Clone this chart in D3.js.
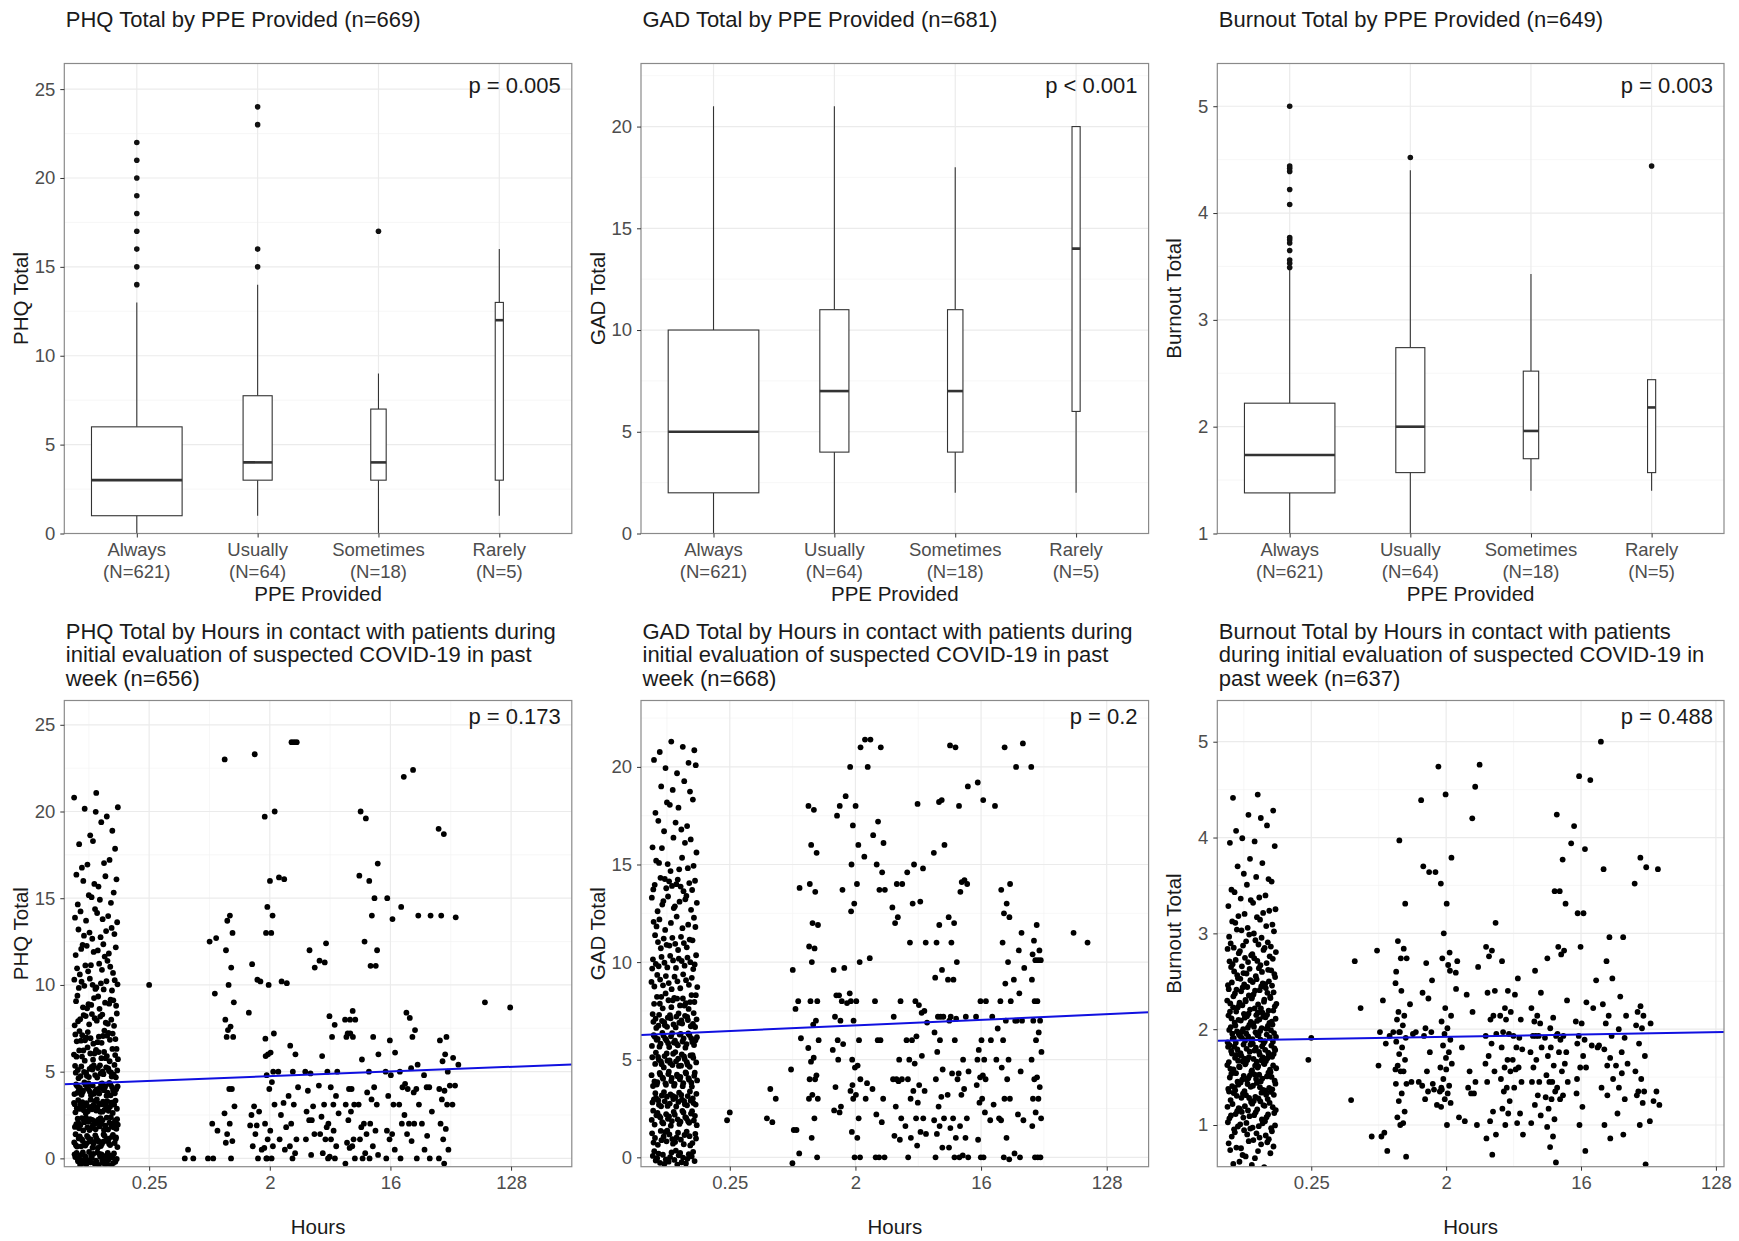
<!DOCTYPE html>
<html lang="en">
<head>
<meta charset="utf-8">
<script src="https://cdn.jsdelivr.net/npm/d3@7"></script>
<title>PPE and hours in contact</title>
<style>
  body { margin: 0; background: #fff; }
  svg text { font-family: "Liberation Sans", Arial, sans-serif; }
</style>
</head>
<body>
<svg id="chart" width="1739" height="1241"></svg>
<script>
// ---- data ----
const ppeLevels = ["Always", "Usually", "Sometimes", "Rarely"];
const ppeN = [621, 64, 18, 5];

// [lower whisker, Q1, median, Q3, upper whisker]
const phqBox = [[0, 1, 3, 6, 13], [1, 3, 4, 7.75, 14], [0, 3, 4, 7, 9], [1, 3, 12, 13, 16]];
const phqOut = [[14, 15, 16, 17, 18, 19, 20, 21, 22], [15, 16, 23, 24], [17], []];
const gadBox = [[0, 2, 5, 10, 21], [0, 4, 7, 11, 21], [2, 4, 7, 11, 18], [2, 6, 14, 20, 20]];
const gadOut = [[], [], [], []];
const burnBox = [[1, 1.38, 1.735, 2.22, 3.47], [1, 1.57, 2, 2.74, 4.4], [1.4, 1.7, 1.96, 2.52, 3.43], [1.4, 1.57, 2.18, 2.44, 2.44]];
const burnOut = [[3.49, 3.53, 3.56, 3.65, 3.72, 3.75, 3.77, 4.08, 4.22, 4.39, 4.42, 4.44, 5.0], [4.52], [], [4.44]];

const pBox = ["p = 0.005", "p < 0.001", "p = 0.003"];
const pHours = ["p = 0.173", "p = 0.2", "p = 0.488"];
const hourTicks = [0.25, 2, 16, 128];

// respondents reporting no contact hours, shown at 0.1 h: [score, count]
const zeroHours = 0.1;
const phqZero = [[0,45],[1,40],[2,42],[3,40],[4,38],[5,30],[6,22],[7,20],[8,16],[9,14],[10,14],[11,10],[12,10],[13,8],[14,8],[15,6],[16,6],[17,4],[18,3],[19,3],[20,4],[21,2]];
const gadZero = [[0,25],[1,25],[2,30],[3,32],[4,32],[5,30],[6,32],[7,28],[8,20],[9,16],[10,18],[11,14],[12,10],[13,12],[14,14],[15,8],[16,6],[17,5],[18,5],[19,4],[20,5],[21,4]];
const burnZero = [[0.6,4],[0.7,6],[0.8,8],[0.9,9],[1.0,12],[1.1,13],[1.2,15],[1.3,16],[1.4,17],[1.5,18],[1.6,19],[1.7,20],[1.8,20],[1.9,20],[2.0,19],[2.1,17],[2.2,16],[2.3,15],[2.4,14],[2.5,13],[2.6,12],[2.7,11],[2.8,9],[2.9,8],[3.0,7],[3.1,6],[3.2,5],[3.3,4],[3.4,4],[3.5,3],[3.6,3],[3.7,2],[3.8,1],[3.9,2],[4.0,2],[4.1,2],[4.2,2],[4.3,1],[4.4,2]];

// the rest, grouped by hours
const phqHours = [
  {h: 0.25, v: [10]},
  {h: 0.5, v: [0.5, 0, 0]},
  {h: 0.75, v: [12.7, 12.5, 9.5, 2, 1.6, 0, 0]},
  {h: 1, v: [23, 14, 13.7, 13, 12, 11, 10, 9, 8, 7.6, 7.4, 7, 7, 4, 4, 3, 2.6, 2, 1.4, 1, 0.9, 0]},
  {h: 1.5, v: [23.3, 11.2, 10.3, 8.4, 3, 2.5, 1.9, 1.9, 1.4, 0.7, 0]},
  {h: 1.75, v: [10.2, 5.9, 2.7, 0.6, 0.5, 0]},
  {h: 2, v: [20, 19.7, 16, 14.5, 14, 13, 13, 10, 7.2, 6.9, 6.1, 6, 5, 4.8, 4.4, 4, 3.1, 2, 1.6, 1.1, 0.7, 0, 0]},
  {h: 2.5, v: [16.2, 16.1, 10.2, 10.1, 5, 3.2, 2.5, 1.8, 1.1, 0.5]},
  {h: 3, v: [24, 24, 24, 6.5, 6, 5, 4.1, 3.6, 3.1, 2, 1.1, 0.7, 0.3, 0]},
  {h: 4, v: [12, 11, 5, 4.9, 3.9, 3, 2.7, 2.2, 2.2, 1.4, 1.1, 0.2]},
  {h: 5, v: [12.4, 11.4, 11.3, 5.9, 5, 4.2, 3.1, 2.4, 1.8, 1.4, 1.1, 0.3, 0]},
  {h: 6, v: [8.2, 7.7, 7, 5, 4.1, 3.6, 3.1, 2.6, 2, 1.6, 1.1, 0.7, 0.1, 0]},
  {h: 8, v: [8.5, 8, 8, 8, 7.2, 7.2, 7, 7, 4, 4, 3.1, 3.1, 2.7, 2.2, 1.1, 0.9, 0.7, 0.6, 0, -0.3]},
  {h: 10, v: [20, 19.6, 16.3, 12.5, 5.7, 3.8, 3.1, 2, 1.8, 1.4, 1.1, 0.3, 0]},
  {h: 12, v: [17, 16, 15, 14, 12, 11.1, 11.1, 7, 6, 5, 4.1, 3.4, 3.1, 2, 1.6, 0.7, 0.2, 0]},
  {h: 16, v: [15, 13.8, 6.8, 6.1, 5, 4.8, 3.6, 3.1, 1.6, 1.4, 1.1, 0.5, 0]},
  {h: 20, v: [22, 14.5, 8.4, 5, 4.3, 4.1, 4, 3.1, 2.5, 2, 1.4, 0]},
  {h: 24, v: [22.4, 14, 8.1, 7.4, 7, 5.4, 5.2, 4, 3.8, 3.1, 2, 2, 1, 0]},
  {h: 30, v: [14, 4.8, 4.1, 4.1, 2.7, 2, 1.3, 0.5, 0]},
  {h: 40, v: [19, 18.7, 14, 7, 6.8, 6, 5.6, 5, 4, 3.9, 3.4, 3.1, 2, 1.7, 1.1, 0.5, 0, -0.3]},
  {h: 48, v: [13.9, 5.8, 5.4, 4.2, 4.2, 3.1]},
  {h: 84, v: [9]},
  {h: 116, v: [8.7]}
];
const gadHours = [
  {h: 0.25, v: [2.3, 1.9]},
  {h: 0.5, v: [3.5, 3, 2, 1.8]},
  {h: 0.75, v: [13.8, 9.6, 8, 7.6, 6.1, 4.5, 1.4, 1.4, 0.2, -0.3]},
  {h: 1, v: [18, 17.8, 16, 15.6, 14, 13.6, 12, 11.9, 10.8, 10.7, 10, 8, 8, 7, 6.8, 6, 5.6, 5.1, 4.9, 4.2, 4, 4, 3.2, 3, 3, 2, 1, 0]},
  {h: 1.5, v: [18, 17.5, 13.7, 9.6, 8.3, 8.3, 8, 7.2, 7, 6, 5.8, 5.5, 5, 3.6, 2.6, 2.4, 2.3]},
  {h: 1.75, v: [18.5, 12.6, 9.7, 8.4, 7.9, 3.7]},
  {h: 2, v: [21, 20, 18, 17, 16, 15, 14, 13, 10, 8, 8, 7, 6, 5, 4.7, 4.6, 4, 3.4, 3.2, 3, 2, 1.3, 1, 0, 0]},
  {h: 2.5, v: [21.4, 21.4, 20, 16.5, 15.4, 10.2, 3.8, 3.5, 3]},
  {h: 3, v: [21, 17.2, 16.1, 15, 14.6, 13.7, 13.7, 8, 6, 6, 3, 2.2, 1.8, 0, 0, 0]},
  {h: 4, v: [14, 14, 12.8, 12.3, 12, 8, 7.2, 5, 4, 4, 4, 3.9, 2.6, 2, 1.1, 0.9]},
  {h: 5, v: [15, 14.6, 13, 11, 8, 6, 6, 5, 4.8, 4, 3.4, 3, 2, 1.6, 1, 0]},
  {h: 6, v: [18.1, 14.8, 13.1, 11, 7.8, 7.5, 7.4, 6.9, 6.2, 5.2, 3.7, 3.4, 2.8, 2, 1.3, 1.2, 0.6]},
  {h: 8, v: [18.3, 18.2, 16, 15.6, 11.9, 11, 9.6, 9.2, 7.2, 7.2, 7.2, 6.4, 6, 5.4, 4.5, 4, 3.1, 2.6, 2, 1.9, 1.6, 1.2, 0.5, 0]},
  {h: 10, v: [21.1, 21, 12.3, 12, 11, 10, 9.1, 9.1, 7.2, 7.1, 7, 6, 4.3, 4, 3.2, 2, 1.5, 1, 0.5, 0]},
  {h: 12, v: [19, 18, 14.2, 14.1, 14, 13.6, 7.2, 5, 4.4, 4.3, 3.5, 3.2, 2, 1.6, 1, 0.1, 0, 0]},
  {h: 16, v: [19.2, 18.3, 8, 8, 7.2, 6, 5.5, 5, 5, 4.2, 4.1, 4, 3.7, 3, 2.8, 2.3, 0.9, 0, 0]},
  {h: 20, v: [18, 7.2, 6.6, 6, 5, 2.7, 2, 1.9]},
  {h: 24, v: [21, 14, 13.7, 13, 12.5, 12.3, 11, 10, 8.9, 8, 8, 7, 6, 5, 4.6, 4, 3, 3, 1.9, 1, 0, -0.1]},
  {h: 30, v: [21.2, 20, 11.5, 10.6, 9.7, 9.1, 8.4, 7, 7, 7, 4.4, 2.2, 1.9, 0.2, 0]},
  {h: 40, v: [20, 11.9, 11.1, 10.6, 10.4, 10.1, 10.1, 10.1, 9.1, 8, 8, 7, 7, 6.4, 6, 5.4, 5, 4.1, 4, 3.6, 3, 3, 2.3, 2, 1.6, 0, 0, 0]},
  {h: 72, v: [11.5]},
  {h: 96, v: [11]}
];
const burnHours = [
  {h: 0.25, v: [1.91, 1.68]},
  {h: 0.5, v: [2.71, 2.22, 1.26]},
  {h: 0.6, v: [0.88]},
  {h: 0.75, v: [2.82, 2.3, 1.97, 1.85, 1.62, 0.92, 0.88, 0.73]},
  {h: 0.9, v: [2.6, 1.97, 1.97, 1.93, 1.58]},
  {h: 1, v: [3.97, 3.31, 2.92, 2.84, 2.74, 2.74, 2.48, 2.4, 2.18, 2.14, 2.1, 2.04, 1.97, 1.91, 1.87, 1.81, 1.74, 1.68, 1.62, 1.56, 1.56, 1.43, 1.43, 1.33, 1.25, 1.14, 1.08, 1.02, 1.0, 0.67]},
  {h: 1.25, v: [4.39, 2.26, 1.97, 1.95, 1.45, 1.45]},
  {h: 1.5, v: [3.7, 3.64, 2.69, 2.51, 2.38, 2.32, 2.01, 1.97, 1.93, 1.76, 1.56, 1.43, 1.41, 1.35, 1.27]},
  {h: 1.75, v: [4.74, 3.64, 1.39, 1.37, 1.35, 1.21]},
  {h: 2, v: [4.45, 3.79, 3.52, 3.31, 3, 2.8, 2.74, 2.67, 2.22, 2.14, 2.08, 2.01, 1.95, 1.89, 1.83, 1.76, 1.7, 1.64, 1.6, 1.58, 1.48, 1.41, 1.37, 1.33, 1.27, 1.23, 1.19, 1.0]},
  {h: 2.25, v: [2.71, 2.61, 2.59]},
  {h: 2.5, v: [2.42, 1.81, 1.08, 1.04]},
  {h: 3, v: [4.53, 4.2, 2.65, 2.36, 2.18, 1.56, 1.45, 1.39, 1.33, 1.33, 1.0]},
  {h: 3.5, v: [4.76, 1.64]},
  {h: 4, v: [3.11, 2.86, 2.82, 2.76, 2.4, 2.38, 2.14, 2.1, 1.95, 1.93, 1.85, 1.72, 1.56, 1.45, 1.14, 1.04, 0.9, 0.86, 0.69]},
  {h: 5, v: [2.71, 2.4, 2.22, 2.18, 2.14, 2.1, 1.97, 1.95, 1.81, 1.68, 1.6, 1.56, 1.48, 1.39, 1.35, 1.25, 1.17, 1.12, 1.0]},
  {h: 6, v: [2.53, 2.36, 2.1, 1.93, 1.91, 1.81, 1.79, 1.68, 1.6, 1.58, 1.45, 1.39, 1.12, 1.02, 0.9]},
  {h: 8, v: [2.61, 2.38, 2.22, 2.14, 2.08, 2.06, 1.93, 1.93, 1.93, 1.81, 1.76, 1.68, 1.6, 1.45, 1.45, 1.31, 1.21, 1.1, 1.02]},
  {h: 10, v: [3.44, 2.74, 2.12, 2.01, 1.93, 1.91, 1.81, 1.72, 1.62, 1.52, 1.45, 1.45, 1.35, 1.29, 1.27, 1.17, 1.06, 0.98, 0.88, 0.77, 0.61]},
  {h: 12, v: [4.24, 3.77, 3.44, 3.31, 2.86, 2.82, 2.78, 2.3, 1.95, 1.93, 1.89, 1.76, 1.76, 1.64, 1.56, 1.45, 1.39, 1.31, 1.27]},
  {h: 14, v: [4.12, 3.94, 1.48]},
  {h: 16, v: [4.64, 3.88, 3.21, 3.21, 2.86, 2.28, 2.08, 2.06, 1.93, 1.89, 1.85, 1.72, 1.6, 1.6, 1.33, 1.19, 1.0, 0.73]},
  {h: 20, v: [5.0, 4.6, 2.51, 2.22, 1.83, 1.83, 1.81]},
  {h: 24, v: [3.67, 2.96, 2.71, 2.53, 2.26, 2.14, 2.06, 1.93, 1.79, 1.7, 1.62, 1.48, 1.39, 1.31, 1.0, 0.86]},
  {h: 30, v: [2.96, 2.34, 2.14, 2.0, 1.91, 1.76, 1.64, 1.62, 1.54, 1.39, 1.27, 1.12, 0.9]},
  {h: 40, v: [3.79, 3.69, 3.52, 2.24, 2.18, 2.14, 2.04, 2.01, 1.85, 1.72, 1.56, 1.48, 1.35, 1.35, 1.31, 1.23, 1.0, 0.59]},
  {h: 50, v: [3.67, 2.06, 1.35, 1.25, 1.21, 1.04]}
];

// fitted lines, score = a + b * log2(hours)
const phqFit = {a: 4.65, b: 0.0903};
const gadFit = {a: 6.66, b: 0.0957};
const burnFit = {a: 1.913, b: 0.008};

// ---- layout ----
const svg = d3.select("#chart");
const cols = [{left: 64.3, right: 571.8}, {left: 641, right: 1148.6}, {left: 1217.3, right: 1724}];
const topRow = {top: 63.5, bottom: 533.5};
const botRow = {top: 700.5, bottom: 1166.7};

const tickFont = "18.5px", labFont = "20.5px", titleFont = "22px";
const gridMajor = "#ebebeb", gridMinor = "#f3f3f3";
const fmt = d3.format("~g");

function minors(ticks, dom) {
  const step = ticks[1] - ticks[0];
  const out = [];
  for (let v = ticks[0] - step / 2; v <= ticks[ticks.length - 1] + step / 2 + 1e-9; v += step) {
    if (v > dom[0] && v < dom[1]) out.push(v);
  }
  return out;
}

// Halton sequence: a fixed, evenly spread jitter pattern (no random numbers)
function halton(i, b) {
  let f = 1, r = 0;
  while (i > 0) { f /= b; r += f * (i % b); i = Math.floor(i / b); }
  return r;
}

function styleAxis(g) {
  g.select(".domain").remove();
  g.selectAll(".tick line").attr("stroke", "#333").attr("stroke-width", 1);
  g.selectAll(".tick text").attr("fill", "#4d4d4d").style("font-size", tickFont);
}

function panelFrame(id, c, row) {
  const g = svg.append("g");
  svg.append("clipPath").attr("id", id)
    .append("rect").attr("x", c.left).attr("y", row.top)
    .attr("width", c.right - c.left).attr("height", row.bottom - row.top);
  return g;
}

function addTitle(c, lines, baselines) {
  const t = svg.append("text").attr("x", c.left + 1.5).attr("fill", "#1a1a1a").style("font-size", titleFont);
  lines.forEach((s, i) => t.append("tspan").attr("x", c.left + 1.5).attr("y", baselines[i]).text(s));
}

function addYLabel(c, row, s) {
  const cy = (row.top + row.bottom) / 2;
  svg.append("text")
    .attr("transform", `translate(${c.left - 36},${cy}) rotate(-90)`)
    .attr("text-anchor", "middle").attr("fill", "#1a1a1a").style("font-size", labFont)
    .text(s);
}

function addXLabel(c, y, s) {
  svg.append("text").attr("x", (c.left + c.right) / 2).attr("y", y)
    .attr("text-anchor", "middle").attr("fill", "#1a1a1a").style("font-size", labFont)
    .text(s);
}

function addP(c, y, s) {
  svg.append("text").attr("x", c.right - 11).attr("y", y)
    .attr("text-anchor", "end").attr("fill", "#1a1a1a").style("font-size", titleFont)
    .text(s);
}

function border(c, row) {
  svg.append("rect").attr("x", c.left).attr("y", row.top)
    .attr("width", c.right - c.left).attr("height", row.bottom - row.top)
    .attr("fill", "none").attr("stroke", "#8a8a8a").attr("stroke-width", 1.2);
}

// ---- box plots by PPE ----
const boxPanels = [
  {title: "PHQ Total by PPE Provided (n=669)", yLab: "PHQ Total", yDom: [0, 26.44], yTicks: [0, 5, 10, 15, 20, 25], stats: phqBox, out: phqOut, p: pBox[0]},
  {title: "GAD Total by PPE Provided (n=681)", yLab: "GAD Total", yDom: [0, 23.1], yTicks: [0, 5, 10, 15, 20], stats: gadBox, out: gadOut, p: pBox[1]},
  {title: "Burnout Total by PPE Provided (n=649)", yLab: "Burnout Total", yDom: [1, 5.40], yTicks: [1, 2, 3, 4, 5], stats: burnBox, out: burnOut, p: pBox[2]}
];

boxPanels.forEach((P, k) => {
  const c = cols[k], row = topRow;
  const x = d3.scalePoint().domain(ppeLevels).range([c.left, c.right]).padding(0.6);
  const y = d3.scaleLinear().domain(P.yDom).range([row.bottom, row.top]);
  const g = panelFrame("clipB" + k, c, row);

  g.selectAll(".ymin").data(minors(P.yTicks, P.yDom)).join("line")
    .attr("x1", c.left).attr("x2", c.right).attr("y1", d => y(d)).attr("y2", d => y(d))
    .attr("stroke", gridMinor).attr("stroke-width", 0.7);
  g.selectAll(".ymaj").data(P.yTicks).join("line")
    .attr("x1", c.left).attr("x2", c.right).attr("y1", d => y(d)).attr("y2", d => y(d))
    .attr("stroke", gridMajor).attr("stroke-width", 1.2);
  g.selectAll(".xmaj").data(ppeLevels).join("line")
    .attr("x1", d => x(d)).attr("x2", d => x(d)).attr("y1", row.top).attr("y2", row.bottom)
    .attr("stroke", gridMajor).attr("stroke-width", 1.2);

  const boxes = g.append("g").attr("clip-path", `url(#clipB${k})`);
  ppeLevels.forEach((lev, i) => {
    const s = P.stats[i];
    const cx = x(lev);
    const hw = 0.375 * Math.sqrt(ppeN[i] / ppeN[0]) * x.step();
    boxes.append("line").attr("x1", cx).attr("x2", cx).attr("y1", y(s[0])).attr("y2", y(s[1]))
      .attr("stroke", "#333").attr("stroke-width", 1.1);
    boxes.append("line").attr("x1", cx).attr("x2", cx).attr("y1", y(s[3])).attr("y2", y(s[4]))
      .attr("stroke", "#333").attr("stroke-width", 1.1);
    boxes.append("rect").attr("x", cx - hw).attr("width", 2 * hw)
      .attr("y", y(s[3])).attr("height", y(s[1]) - y(s[3]))
      .attr("fill", "#fff").attr("stroke", "#333").attr("stroke-width", 1.1);
    boxes.append("line").attr("x1", cx - hw).attr("x2", cx + hw).attr("y1", y(s[2])).attr("y2", y(s[2]))
      .attr("stroke", "#333").attr("stroke-width", 2.6);
    boxes.selectAll(null).data(P.out[i]).join("circle")
      .attr("cx", cx).attr("cy", d => y(d)).attr("r", 2.8).attr("fill", "#111");
  });

  border(c, row);

  svg.append("g").attr("transform", `translate(${c.left},0)`)
    .call(d3.axisLeft(y).tickValues(P.yTicks).tickSize(4).tickPadding(5).tickFormat(fmt))
    .call(styleAxis);

  svg.append("g").attr("transform", `translate(0,${row.bottom})`)
    .call(d3.axisBottom(x).tickSize(4).tickFormat(""))
    .call(styleAxis);
  ppeLevels.forEach((lev, i) => {
    const t = svg.append("text").attr("text-anchor", "middle").attr("fill", "#4d4d4d").style("font-size", tickFont);
    t.append("tspan").attr("x", x(lev)).attr("y", row.bottom + 22.5).text(lev);
    t.append("tspan").attr("x", x(lev)).attr("y", row.bottom + 44.5).text(`(N=${ppeN[i]})`);
  });

  addTitle(c, [P.title], [26.7]);
  addYLabel(c, row, P.yLab);
  addXLabel(c, 601, "PPE Provided");
  addP(c, row.top + 29.5, P.p);
});

// ---- scatter by hours ----
const hourPanels = [
  {title: ["PHQ Total by Hours in contact with patients during", "initial evaluation of suspected COVID-19 in past", "week (n=656)"],
   yLab: "PHQ Total", xLog: [-4.11, 8.51], yDom: [-0.48, 26.4], yTicks: [0, 5, 10, 15, 20, 25],
   zero: phqZero, groups: phqHours, fit: phqFit, yJit: 0.8, p: pHours[0]},
  {title: ["GAD Total by Hours in contact with patients during", "initial evaluation of suspected COVID-19 in past", "week (n=668)"],
   yLab: "GAD Total", xLog: [-4.12, 8.0], yDom: [-0.48, 23.4], yTicks: [0, 5, 10, 15, 20],
   zero: gadZero, groups: gadHours, fit: gadFit, yJit: 0.8, p: pHours[1]},
  {title: ["Burnout Total by Hours in contact with patients", "during initial evaluation of suspected COVID-19 in", "past week (n=637)"],
   yLab: "Burnout Total", xLog: [-4.09, 7.18], yDom: [0.565, 5.43], yTicks: [1, 2, 3, 4, 5],
   zero: burnZero, groups: burnHours, fit: burnFit, yJit: 0.1, p: pHours[2]}
];

hourPanels.forEach((P, k) => {
  const c = cols[k], row = botRow;
  const x = d3.scaleLog().base(2).domain(P.xLog.map(v => Math.pow(2, v))).range([c.left, c.right]);
  const y = d3.scaleLinear().domain(P.yDom).range([row.bottom, row.top]);
  const g = panelFrame("clipH" + k, c, row);

  const lt = hourTicks.map(Math.log2);
  const xMinor = minors(lt, P.xLog).map(v => Math.pow(2, v));

  g.selectAll(".ymin").data(minors(P.yTicks, P.yDom)).join("line")
    .attr("x1", c.left).attr("x2", c.right).attr("y1", d => y(d)).attr("y2", d => y(d))
    .attr("stroke", gridMinor).attr("stroke-width", 0.7);
  g.selectAll(".xmin").data(xMinor).join("line")
    .attr("x1", d => x(d)).attr("x2", d => x(d)).attr("y1", row.top).attr("y2", row.bottom)
    .attr("stroke", gridMinor).attr("stroke-width", 0.7);
  g.selectAll(".ymaj").data(P.yTicks).join("line")
    .attr("x1", c.left).attr("x2", c.right).attr("y1", d => y(d)).attr("y2", d => y(d))
    .attr("stroke", gridMajor).attr("stroke-width", 1.2);
  g.selectAll(".xmaj").data(hourTicks).join("line")
    .attr("x1", d => x(d)).attr("x2", d => x(d)).attr("y1", row.top).attr("y2", row.bottom)
    .attr("stroke", gridMajor).attr("stroke-width", 1.2);

  const pts = [];
  let i = 0;
  P.zero.forEach(([v, n]) => {
    for (let j = 0; j < n; j++, i++) {
      const jx = (halton(i + 1, 2) - 0.5) * 1.1;
      const jy = (halton(i + 1, 3) - 0.5) * P.yJit;
      pts.push({h: zeroHours * Math.pow(2, jx), v: v + jy});
    }
  });
  P.groups.forEach((grp, gi) => {
    grp.v.forEach((v, j) => {
      const jx = (halton(j + gi * 5 + 1, 2) - 0.5) * 0.26;
      pts.push({h: grp.h * Math.pow(2, jx), v: v});
    });
  });

  const layer = g.append("g").attr("clip-path", `url(#clipH${k})`);
  layer.selectAll("circle").data(pts).join("circle")
    .attr("cx", d => x(d.h)).attr("cy", d => y(d.v)).attr("r", 2.9).attr("fill", "#000");

  layer.append("path")
    .datum(x.domain())
    .attr("fill", "none").attr("stroke", "#1010e0").attr("stroke-width", 2)
    .attr("d", d3.line().x(d => x(d)).y(d => y(P.fit.a + P.fit.b * Math.log2(d))));

  border(c, row);

  svg.append("g").attr("transform", `translate(${c.left},0)`)
    .call(d3.axisLeft(y).tickValues(P.yTicks).tickSize(4).tickPadding(5).tickFormat(fmt))
    .call(styleAxis);
  svg.append("g").attr("transform", `translate(0,${row.bottom})`)
    .call(d3.axisBottom(x).tickValues(hourTicks).tickSize(4).tickPadding(5).tickFormat(d => String(d)))
    .call(styleAxis);

  addTitle(c, P.title, [639, 662.4, 685.6]);
  addYLabel(c, row, P.yLab);
  addXLabel(c, 1234, "Hours");
  addP(c, row.top + 23.5, P.p);
});
</script>
</body>
</html>
